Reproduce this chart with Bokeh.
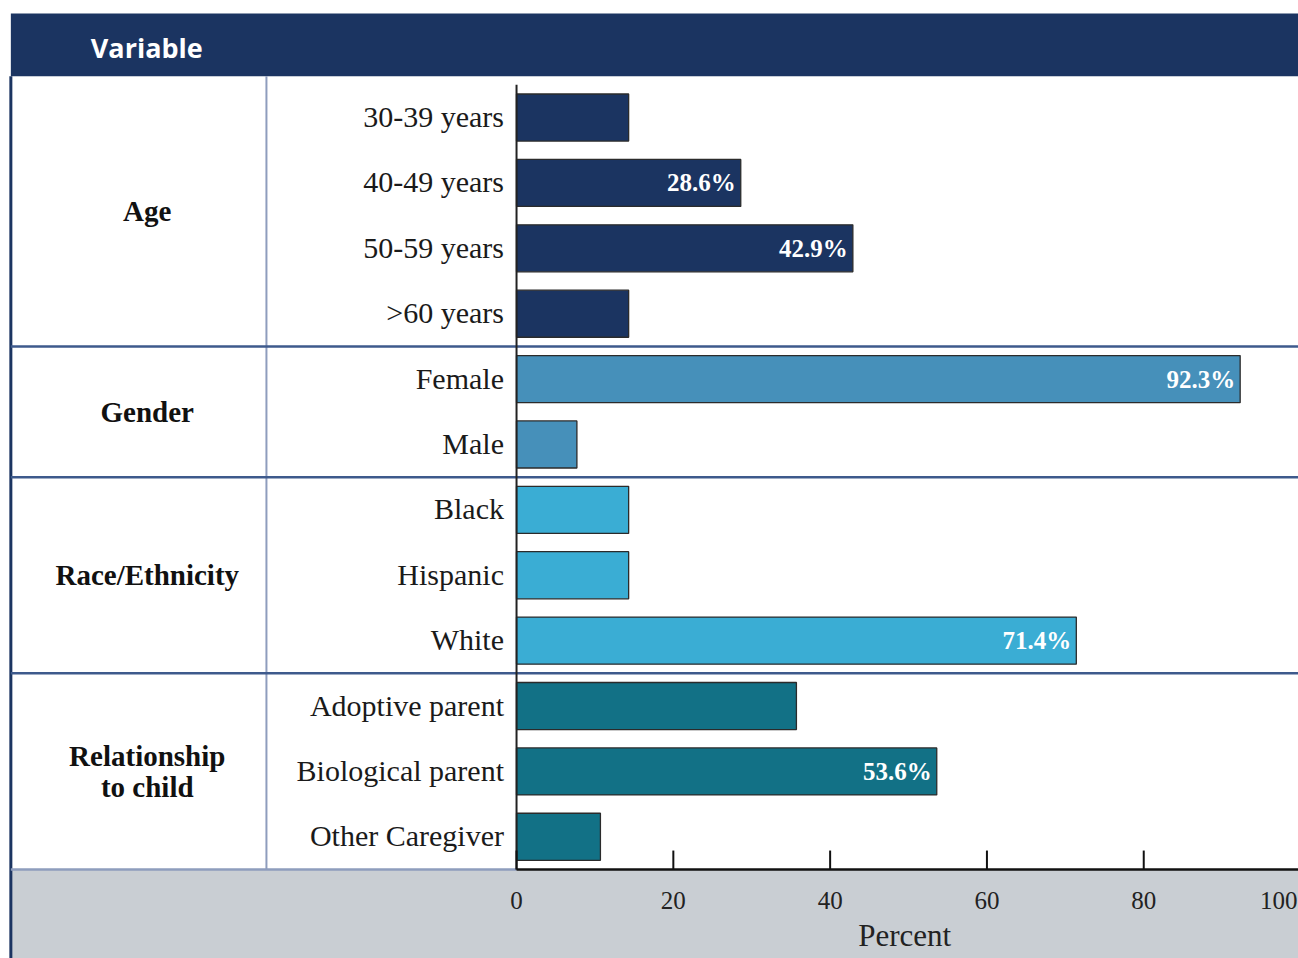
from bokeh.plotting import figure
from bokeh.models import Range1d
from bokeh.core.properties import value
from bokeh.embed import file_html
from bokeh.resources import INLINE

# ---------------- data ----------------
groups = ["Age", "Gender", "Race/Ethnicity", "Relationship\nto child"]
categories = [
    ["30-39 years", "40-49 years", "50-59 years", ">60 years"],
    ["Female", "Male"],
    ["Black", "Hispanic", "White"],
    ["Adoptive parent", "Biological parent", "Other Caregiver"],
]
percents = [
    [14.3, 28.6, 42.9, 14.3],
    [92.3, 7.7],
    [14.3, 14.3, 71.4],
    [35.7, 53.6, 10.7],
]
bar_labels = [
    ["", "28.6%", "42.9%", ""],
    ["92.3%", ""],
    ["", "", "71.4%"],
    ["", "53.6%", ""],
]
group_colors = ["#1B3461", "#4690BA", "#3AADD4", "#127186"]
x_ticks = [0, 20, 40, 60, 80]
last_tick = 100
header_text = "Variable"
x_title = "Percent"

# ---------------- layout constants ----------------
X_START, X_END = -65.82, 99.74
TABLE_LEFT, COL_DIV = -64.5, -31.9
LABEL_X, GROUP_X, HEADER_X = -1.6, -47.1, -54.3
n_rows = sum(len(c) for c in categories)
HEADER_BOTTOM, HEADER_TOP, Y_END = n_rows + 0.13, n_rows + 1.09, n_rows + 1.29
Y_START = -1.361
TICK_LEN = 0.29
TICK_LABEL_Y, TITLE_Y, TITLE_X = -0.474, -1.01, 49.5

NAVY = "#1B3461"
GRIDBLUE = "#8E9DBD"
SEPBLUE = "#3E5A8C"
GRAY = "#C9CED3"
SERIF = "Liberation Serif"

p = figure(width=1298, height=958, output_backend="svg", toolbar_location=None,
           x_range=Range1d(X_START, X_END), y_range=Range1d(Y_START, Y_END),
           x_axis_location=None, y_axis_location=None,
           min_border=0)
p.grid.visible = False
p.outline_line_color = None
p.background_fill_color = "white"
p.border_fill_color = "white"

# rows
ys, vals, cols, cats, labs = [], [], [], [], []
group_y, boundaries = [], []
idx = 0
for g, (cl, pv, bl) in enumerate(zip(categories, percents, bar_labels)):
    top = n_rows - idx
    for c, v, l in zip(cl, pv, bl):
        ys.append(n_rows - 0.5 - idx)
        vals.append(v)
        cols.append(group_colors[g])
        cats.append(c)
        labs.append(l)
        idx += 1
    bottom = n_rows - idx
    if g == 0:
        top = HEADER_BOTTOM
    group_y.append((top + bottom) / 2)
    if bottom > 0:
        boundaries.append(bottom)

# header band and bottom (axis) band
p.quad(left=[TABLE_LEFT], right=[X_END], bottom=[HEADER_BOTTOM], top=[HEADER_TOP],
       fill_color=NAVY, line_color=None)
p.quad(left=[TABLE_LEFT], right=[X_END], bottom=[Y_START], top=[0],
       fill_color=GRAY, line_color=None)
p.text(x=[HEADER_X], y=[(HEADER_BOTTOM + HEADER_TOP) / 2], text=[header_text],
       text_font=value("Open Sans"), text_font_style="bold", text_font_size="27px",
       text_color="white", text_align="left", text_baseline="middle", y_offset=3)

# table lines
p.segment(x0=[TABLE_LEFT], y0=[Y_START], x1=[TABLE_LEFT], y1=[HEADER_BOTTOM],
          line_color=NAVY, line_width=3)
p.segment(x0=[COL_DIV], y0=[0], x1=[COL_DIV], y1=[HEADER_BOTTOM],
          line_color=GRIDBLUE, line_width=2)
p.segment(x0=[TABLE_LEFT] * len(boundaries), y0=boundaries,
          x1=[X_END] * len(boundaries), y1=boundaries,
          line_color=SEPBLUE, line_width=2.5)
p.segment(x0=[TABLE_LEFT], y0=[0], x1=[0], y1=[0], line_color=GRIDBLUE, line_width=2.5)

# bars
p.hbar(y=ys, left=0, right=vals, height=0.72, fill_color=cols,
       line_color="#2B2B2B", line_width=1.3)

# axis lines and ticks
p.segment(x0=[0], y0=[0], x1=[0], y1=[n_rows], line_color="#222222", line_width=2)
p.segment(x0=[0], y0=[0], x1=[X_END], y1=[0], line_color="#111111", line_width=2.5)
p.segment(x0=x_ticks, y0=[0] * len(x_ticks), x1=x_ticks, y1=[TICK_LEN] * len(x_ticks),
          line_color="#111111", line_width=2)

# tick labels
p.text(x=x_ticks, y=[TICK_LABEL_Y] * len(x_ticks), text=[str(t) for t in x_ticks],
       text_font=value(SERIF), text_font_size="25px", text_color="#222222",
       text_align="center", text_baseline="middle")
p.text(x=[last_tick], y=[TICK_LABEL_Y], text=[str(last_tick)], x_offset=-3,
       text_font=value(SERIF), text_font_size="25px", text_color="#222222",
       text_align="right", text_baseline="middle")
p.text(x=[TITLE_X], y=[TITLE_Y], text=[x_title],
       text_font=value(SERIF), text_font_size="31px", text_color="#222222",
       text_align="center", text_baseline="middle")

# category labels
p.text(x=[LABEL_X] * len(ys), y=ys, text=cats, text_font=value(SERIF),
       text_font_size="30px", text_color="#1A1A1A", text_align="right",
       text_baseline="middle", y_offset=-1)

# group labels
p.text(x=[GROUP_X] * len(groups), y=group_y, text=groups, text_font=value(SERIF),
       text_font_style="bold", text_font_size="29px", text_color="#111111",
       text_align="center", text_baseline="middle", text_line_height=0.95)

# value labels inside bars
p.text(x=vals, y=ys, text=labs, x_offset=-5, text_font=value(SERIF),
       text_font_style="bold", text_font_size="25px", text_color="white",
       text_align="right", text_baseline="middle")

open("out.html", "w").write(file_html(p, INLINE))
